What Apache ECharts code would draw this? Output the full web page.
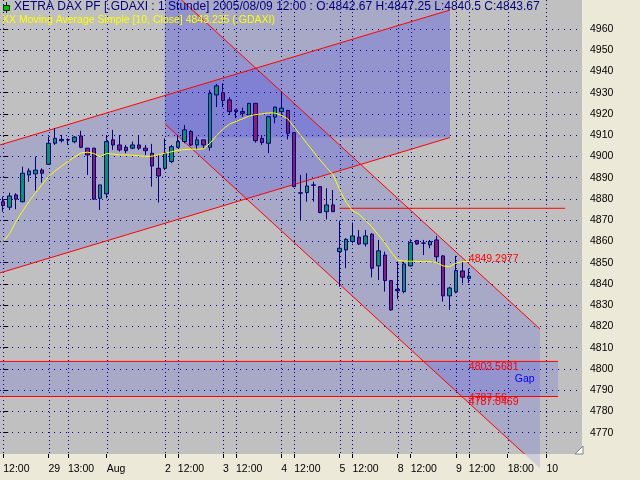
<!DOCTYPE html>
<html><head><meta charset="utf-8">
<script src="https://cdn.jsdelivr.net/npm/echarts@6/dist/echarts.min.js"></script>
<style>html,body{margin:0;padding:0;background:#ECE9D8}#c{width:640px;height:480px}</style>
</head><body><div id="c"></div>
<script>
// ---- categories (hourly bars, XETRA session) ----
const hours = ['10:00','11:00','12:00','13:00','14:00','15:00','16:00','17:00','17:30'];
const fullDays = ['07/29','08/01','08/02','08/03','08/04','08/05','08/08'];
const futureAug9 = ['13:00','14:00','15:00','16:00','17:00','18:00','19:00','20:00','21:00','22:00','23:00'];
const futureAug10 = ['00:00','01:00','02:00','03:00','04:00','05:00'];
const categories = [].concat(
  hours.slice(2).map(h => '07/28 ' + h),
  ...fullDays.map(d => hours.map(h => d + ' ' + h)),
  ['10:00','11:00','12:00'].map(h => '08/09 ' + h),
  futureAug9.map(h => '08/09 ' + h),
  futureAug10.map(h => '08/10 ' + h)
);

// ---- OHLC values ----
const open  = [4878.7,4876.1,4881.9,4878.7,4891.3,4891.8,4893.6,4896.3,4906.2,4907.4,4907.8,4906.9,4909.6,4903.9,4903.9,4880.3,4882.4,4907.8,4905.4,4904.3,4903.9,4905.4,4903.9,4901.5,4894.4,4894.4,4897.6,4904.3,4907.0,4911.7,4905.4,4907.8,4904.3,4928.9,4930.0,4926.6,4921.9,4921.1,4919.5,4925.0,4908.5,4906.2,4918.5,4921.1,4921.6,4911.2,4882.9,4883.0,4886.4,4885.8,4874.0,4877.2,4855.2,4856.0,4860.0,4862.0,4858.8,4863.4,4848.5,4853.6,4841.6,4837.5,4836.4,4848.5,4860.4,4859.2,4858.4,4860.7,4853.2,4834.4,4836.3,4846.1,4842.67];
const close = [4876.9,4881.4,4879.9,4892.1,4893.2,4893.6,4892.1,4906.2,4908.5,4908.0,4907.9,4909.1,4904.3,4900.7,4879.9,4886.6,4907.0,4905.4,4903.1,4902.7,4905.4,4903.9,4902.7,4895.5,4890.8,4901.5,4904.6,4907.0,4912.5,4905.4,4907.8,4905.4,4929.7,4933.2,4926.3,4921.1,4921.1,4920.3,4925.0,4907.4,4906.5,4918.7,4923.2,4922.7,4910.9,4885.8,4882.7,4886.1,4886.6,4873.6,4877.2,4874.0,4856.8,4861.0,4862.6,4858.8,4862.6,4847.4,4855.6,4841.6,4827.8,4836.8,4849.4,4859.5,4858.8,4859.3,4860.0,4852.8,4834.4,4838.1,4846.3,4843.2,4843.67];
const low   = [4874.0,4874.8,4875.2,4878.3,4888.1,4883.9,4887.7,4896.0,4905.4,4906.5,4905.4,4906.2,4903.9,4891.3,4879.5,4874.8,4880.3,4903.1,4902.3,4901.5,4903.4,4903.1,4900.7,4885.8,4878.3,4893.6,4896.8,4903.9,4906.2,4904.9,4903.1,4903.9,4902.7,4923.2,4923.2,4919.5,4918.0,4918.7,4919.5,4906.5,4905.4,4901.5,4915.6,4919.5,4908.0,4885.5,4870.1,4878.7,4878.7,4873.3,4870.4,4874.0,4838.7,4847.4,4859.2,4858.4,4857.6,4843.1,4841.9,4836.4,4827.5,4832.8,4835.6,4848.2,4858.4,4853.6,4856.8,4850.5,4831.7,4827.8,4835.6,4840.3,4840.5];
const high  = [4881.1,4882.9,4882.7,4895.2,4894.4,4899.9,4894.4,4909.3,4913.3,4910.1,4908.5,4909.6,4912.1,4904.0,4904.0,4886.6,4910.1,4912.5,4910.1,4905.4,4907.0,4910.1,4905.4,4905.9,4900.7,4908.5,4905.4,4910.1,4914.8,4912.5,4909.3,4907.8,4931.3,4934.1,4934.4,4927.9,4921.9,4923.0,4925.0,4925.0,4910.1,4919.1,4923.4,4930.5,4921.9,4911.2,4891.3,4892.1,4888.1,4886.1,4885.0,4884.2,4869.7,4861.5,4868.9,4865.4,4865.4,4863.9,4860.7,4855.2,4841.9,4850.5,4850.5,4861.0,4860.7,4860.7,4860.7,4862.6,4853.6,4838.7,4853.2,4850.5,4847.25];
// ---- Moving Average Simple [10, Close] ----
const ma10  = [4860.0,4863.7,4869.6,4874.3,4878.9,4882.9,4886.8,4890.5,4893.1,4895.4,4897.6,4899.7,4901.6,4902.0,4901.4,4899.9,4901.4,4901.1,4900.7,4900.7,4900.6,4900.3,4900.0,4900.1,4900.8,4901.5,4902.2,4902.9,4903.2,4903.4,4903.4,4903.6,4906.3,4909.9,4912.9,4915.2,4916.5,4917.7,4919.0,4919.7,4920.0,4920.5,4920.4,4919.4,4917.7,4913.8,4909.9,4906.0,4902.1,4898.3,4894.8,4891.4,4884.5,4878.5,4874.5,4872.8,4869.9,4866.9,4863.1,4859.4,4855.0,4851.1,4850.8,4850.7,4850.6,4850.5,4850.5,4850.1,4848.5,4848.1,4849.8,4850.5,4850.5];

// ---- tick labels ----
const tickIndex = [0,7,10,16,25,27,34,36,43,45,52,54,61,63,70,72,78,84];
const tickText  = ['12:00','29','13:00','Aug','2','12:00','3','12:00','4','12:00','5','12:00','8','12:00','9','12:00','18:00','10'];
const yTicks = [4770,4780,4790,4800,4810,4820,4830,4840,4850,4860,4870,4880,4890,4900,4910,4920,4930,4940,4950,4960];

// ---- drawings: [slot index, price] ----
const upChannelUpper   = [[-0.5,4905.4],[69.09,4968.9]];
const upChannelLower   = [[-0.5,4845.2],[69.09,4908.9]];
const boxCorners       = [[25.0,4976],[69.09,4908.9]];
const downChannelUpper = [[25.0,4980.8],[83.0,4818.8]];
const downChannelLower = [[25.0,4915.3],[83.0,4753.3]];
const gapLevels = [4803.5681, 4787.0469];
const gapSpan   = [-0.5, 85.8];
const resistLine = [[52,4875.6],[86.9,4875.6]];
const notes = [
  {text:'4849.2977', at:[72,4849.2977], va:'bottom', color:'#FF0000'},
  {text:'4803.5681', at:[72,4803.5681], va:'top', color:'#FF0000'},
  {text:'4787.56',   at:[72,4787.56],   va:'top', color:'#FF0000', dy:-3},
  {text:'4787.0469', at:[72,4787.0469], va:'top', color:'#FF0000'},
  {text:'Gap',       at:[79.1,(4803.5681+4787.0469)/2], va:'middle', color:'#0000FF'}
];

const yMin = 4760, yMax = 4973.6;
const FONT = '10.5px "Liberation Sans", Arial, sans-serif';
const TITLE_FONT = '12px "Liberation Sans", Arial, sans-serif';

const tickMap = {};
tickIndex.forEach((k,i) => tickMap[k] = tickText[i]);
const showTick = (i) => tickMap[i] !== undefined;

const candles = categories.map((c,i) => i < open.length ? [open[i], close[i], low[i], high[i]] : '-');
const maData = categories.map((c,i) => i < ma10.length ? ma10[i] : '-');

const fills = [
  [upChannelUpper[0], upChannelUpper[1], upChannelLower[1], upChannelLower[0]],
  [[boxCorners[0][0],boxCorners[0][1]],[boxCorners[1][0],boxCorners[0][1]],[boxCorners[1][0],boxCorners[1][1]],[boxCorners[0][0],boxCorners[1][1]]],
  [downChannelUpper[0], downChannelUpper[1], downChannelLower[1], downChannelLower[0]],
  [[gapSpan[0],gapLevels[0]],[gapSpan[1],gapLevels[0]],[gapSpan[1],gapLevels[1]],[gapSpan[0],gapLevels[1]]]
];
const redLines = [
  upChannelUpper, upChannelLower, downChannelUpper, downChannelLower,
  [[gapSpan[0],gapLevels[0]],[gapSpan[1],gapLevels[0]]],
  [[gapSpan[0],gapLevels[1]],[gapSpan[1],gapLevels[1]]],
  resistLine
];

const chart = echarts.init(document.getElementById('c'), null, {renderer:'canvas'});
chart.setOption({
  backgroundColor: '#ECE9D8',
  animation: false,
  grid: {left:0, top:0, right:58, bottom:26, show:true, backgroundColor:'#C0C0C0', borderWidth:0},
  xAxis: [{
    type:'category', data: categories, boundaryGap:true, position:'bottom',
    axisLine:{show:false},
    axisTick:{show:true, alignWithLabel:true, interval:(i)=>showTick(i), length:4, lineStyle:{color:'#000'}},
    axisLabel:{interval:(i)=>showTick(i), formatter:(v,i)=>tickMap[i]||'', align:'left', margin:10,
      color:'#000', fontSize:10.5, fontFamily:'"Liberation Sans", Arial, sans-serif'},
    splitLine:{show:false}
  },{
    type:'value', min:-0.5, max:89.5, show:false, gridIndex:0
  }],
  yAxis: {
    type:'value', position:'right', min:yMin, max:yMax, interval:10, scale:true,
    axisLine:{show:false},
    axisTick:{show:true, customValues:yTicks, length:5, lineStyle:{color:'#000'}},
    axisLabel:{customValues:yTicks, formatter:(v)=>String(v), margin:8, color:'#000', fontSize:10.5, fontFamily:'"Liberation Sans", Arial, sans-serif'},
    splitLine:{show:true, lineStyle:{color:'#0000A0', type:[1,5], width:1}}
  },
  series: [
    {
      type:'custom', xAxisIndex:1, yAxisIndex:0, clip:false, silent:true, z:1,
      data: fills.map((f,i)=>i),
      renderItem:(params, api)=>({type:'polygon', shape:{points: fills[params.dataIndex].map(p=>api.coord(p))},
        style:{fill:'rgba(0,0,255,0.12)'}})
    },
    {
      type:'custom', xAxisIndex:1, yAxisIndex:0, clip:true, silent:true, z:2,
      data: tickIndex.slice(),
      renderItem:(params, api)=>{
        const x = tickIndex[params.dataIndex];
        const a = api.coord([x, yMax]), b = api.coord([x, yMin]);
        return {type:'line', shape:{x1:Math.round(a[0])+0.5, y1:a[1], x2:Math.round(b[0])+0.5, y2:b[1]},
          style:{stroke:'#0000A0', lineWidth:1, lineDash:[1,3]}};
      }
    },
    {
      type:'custom', xAxisIndex:1, yAxisIndex:0, clip:true, silent:true, z:3,
      data: redLines.map((l,i)=>i),
      renderItem:(params, api)=>{
        const l = redLines[params.dataIndex];
        const a = api.coord(l[0]), b = api.coord(l[1]);
        return {type:'line', shape:{x1:a[0], y1:a[1], x2:b[0], y2:b[1]}, style:{stroke:'#FF0000', lineWidth:1}};
      }
    },
    {
      name:'XETRA DAX PF', type:'candlestick', xAxisIndex:0, yAxisIndex:0, z:4,
      data: candles, barWidth:4,
      itemStyle:{color:'#009966', color0:'#8E1C6E', borderColor:'#000080', borderColor0:'#000080', borderWidth:1}
    },
    {
      name:'MA10', type:'line', xAxisIndex:0, yAxisIndex:0, z:5, data: maData,
      symbol:'none', lineStyle:{color:'#FFFF00', width:1}
    },
    {
      type:'custom', xAxisIndex:1, yAxisIndex:0, clip:false, silent:true, z:6,
      data: notes.map((n,i)=>i),
      renderItem:(params, api)=>{
        const n = notes[params.dataIndex];
        const p = api.coord(n.at);
        return {type:'text', x:p[0], y:p[1] + (n.dy||0),
          style:{text:n.text, fill:n.color, font:FONT, align:'left', verticalAlign:n.va}};
      }
    }
  ],
  graphic: [
    {type:'line', shape:{x1:6.5, y1:2, x2:6.5, y2:13}, style:{stroke:'#003000', lineWidth:1}, z:10},
    {type:'rect', shape:{x:3.5, y:5.5, width:6, height:5}, style:{fill:'#00C000', stroke:'#003000', lineWidth:1}, z:11},
    {type:'text', left:14, top:1, z:10, style:{text:'XETRA DAX PF [.GDAXI : 1 Stunde] 2005/08/09 12:00 : O:4842.67 H:4847.25 L:4840.5 C:4843.67', fill:'#000080', font:TITLE_FONT}},
    {type:'text', left:2, top:15, z:10, style:{text:'XX Moving Average Simple [10, Close] 4843.235 (.GDAXI)', fill:'#FFFF00', font:FONT}},
    {type:'polygon', shape:{points:[[583,446],[583,454],[575,454]]}, style:{fill:'#FFFFFF', stroke:'#808080', lineWidth:1}, z:10}
  ]
});
</script></body></html>
